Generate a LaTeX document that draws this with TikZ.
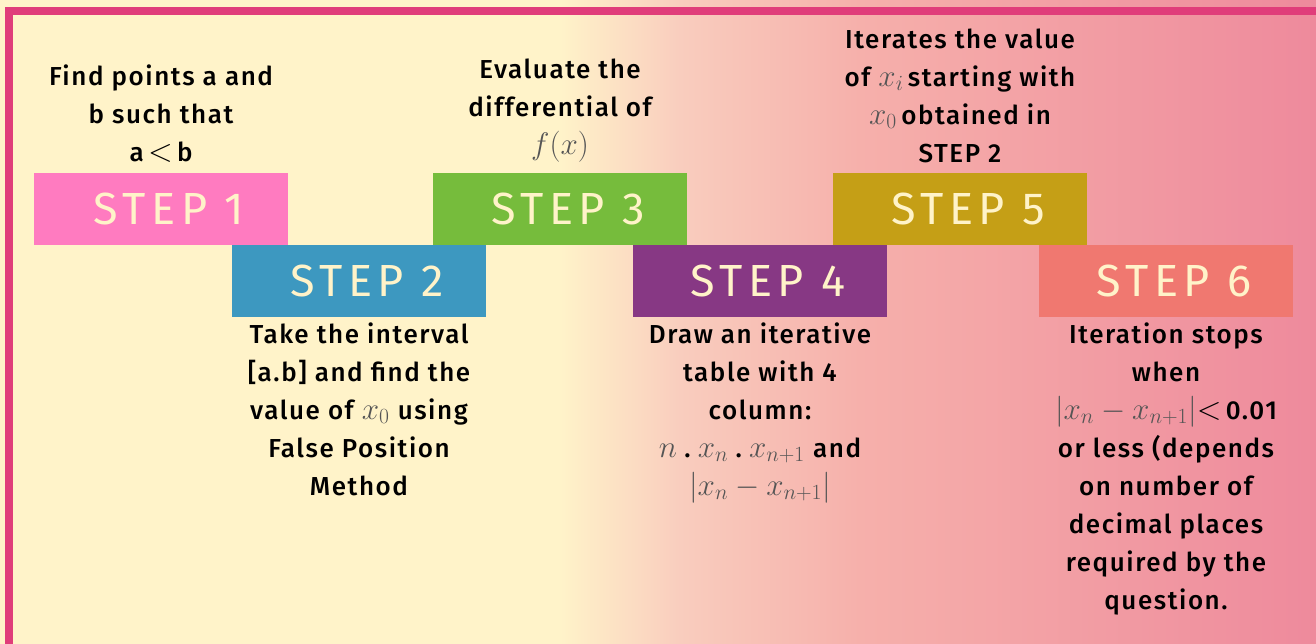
\documentclass[tikz,border=0pt]{standalone}
\usepackage[no-math]{fontspec}
\setmainfont{Fira Sans}[UprightFont={* Medium},LetterSpace=6]
\newfontfamily\stepfont[LetterSpace=12]{Fira Sans}
\usepackage{graphicx}
\usepackage{tikz}
\usetikzlibrary{positioning}
\usepackage{xcolor}
\definecolor{cream}{HTML}{FFF3C9}
\definecolor{washpink}{HTML}{EE8A9C}
\definecolor{washmid}{HTML}{F6B0AB}
\definecolor{washlight}{HTML}{F9CDBE}
\definecolor{framepink}{HTML}{E03D7A}
\definecolor{mathgray}{HTML}{555555}
\definecolor{steponecol}{HTML}{FF7BC0}
\definecolor{steptwocol}{HTML}{3D98C0}
\definecolor{stepthreecol}{HTML}{76BC3C}
\definecolor{stepfourcol}{HTML}{873884}
\definecolor{stepfivecol}{HTML}{C59F16}
\definecolor{stepsixcol}{HTML}{F07870}
\newcommand{\mth}[1]{\scalebox{1.25}{\textcolor{mathgray}{$#1$}}}
\newcommand{\lessthan}{\scalebox{1.3}{$<$}}

\begin{document}
\begin{tikzpicture}[x=1pt,y=-1pt,
  stepbox/.style={rectangle,minimum width=254pt,minimum height=72pt,inner sep=0pt,
    text=cream,font=\stepfont\fontsize{45}{45}\selectfont},
  desc/.style={align=center,inner sep=0pt,text=black,
    font=\fontsize{26}{38}\selectfont}]
\useasboundingbox (0,0) rectangle (1316,644);
\clip (0,0) rectangle (1316,644);
\fill[cream] (0,0) rectangle (1316,644);
\shade[left color=cream,right color=washlight] (560,0) rectangle (680,644);
\shade[left color=washlight,right color=washmid] (679,0) rectangle (860,644);
\shade[left color=washmid,right color=washpink] (859,0) rectangle (1316,644);
\draw[line width=8pt,framepink] (9,11) rectangle (1321,649);

\node[stepbox,fill=steponecol] (s1) at (161,209) {\hspace*{16pt}STEP 1};
\node[stepbox,fill=steptwocol] (s2) at (359,281) {\hspace*{16pt}STEP 2};
\node[stepbox,fill=stepthreecol] (s3) at (560,209) {\hspace*{16pt}STEP 3};
\node[stepbox,fill=stepfourcol] (s4) at (760,281) {\hspace*{16pt}STEP 4};
\node[stepbox,fill=stepfivecol] (s5) at (960,209) {\hspace*{16pt}STEP 5};
\node[stepbox,fill=stepsixcol] (s6) at (1166,281) {\hspace*{16pt}STEP 6};

\node[desc,above=10pt of s1] (d1) {Find points a and\\ b such that\\ a\,\lessthan\,b};
\node[desc,above=10pt of s3] (d3) {Evaluate the\\ differential of\\ \mth{f(x)}};
\node[desc,above=10pt of s5] (d5) {Iterates the value\\ of \mth{x_i}\,starting with\\ \mth{x_0}\,obtained in\\ STEP 2};
\node[desc,below=5pt of s2] (d2) {Take the interval\\ {[}a.b{]} and find the\\ value of \mth{x_0} using\\ False Position\\ Method};
\node[desc,below=5pt of s4] (d4) {Draw an iterative\\ table with 4\\ column:\\ \mth{n}\;.\;\mth{x_n}\;.\;\mth{x_{n+1}} and\\ \mth{|x_n - x_{n+1}|}};
\node[desc,below=5pt of s6] (d6) {Iteration stops\\ when\\ \mth{|x_n - x_{n+1}|}\lessthan\,0.01\\ or less (depends\\ on number of\\ decimal places\\ required by the\\ question.};
\end{tikzpicture}
\end{document}
